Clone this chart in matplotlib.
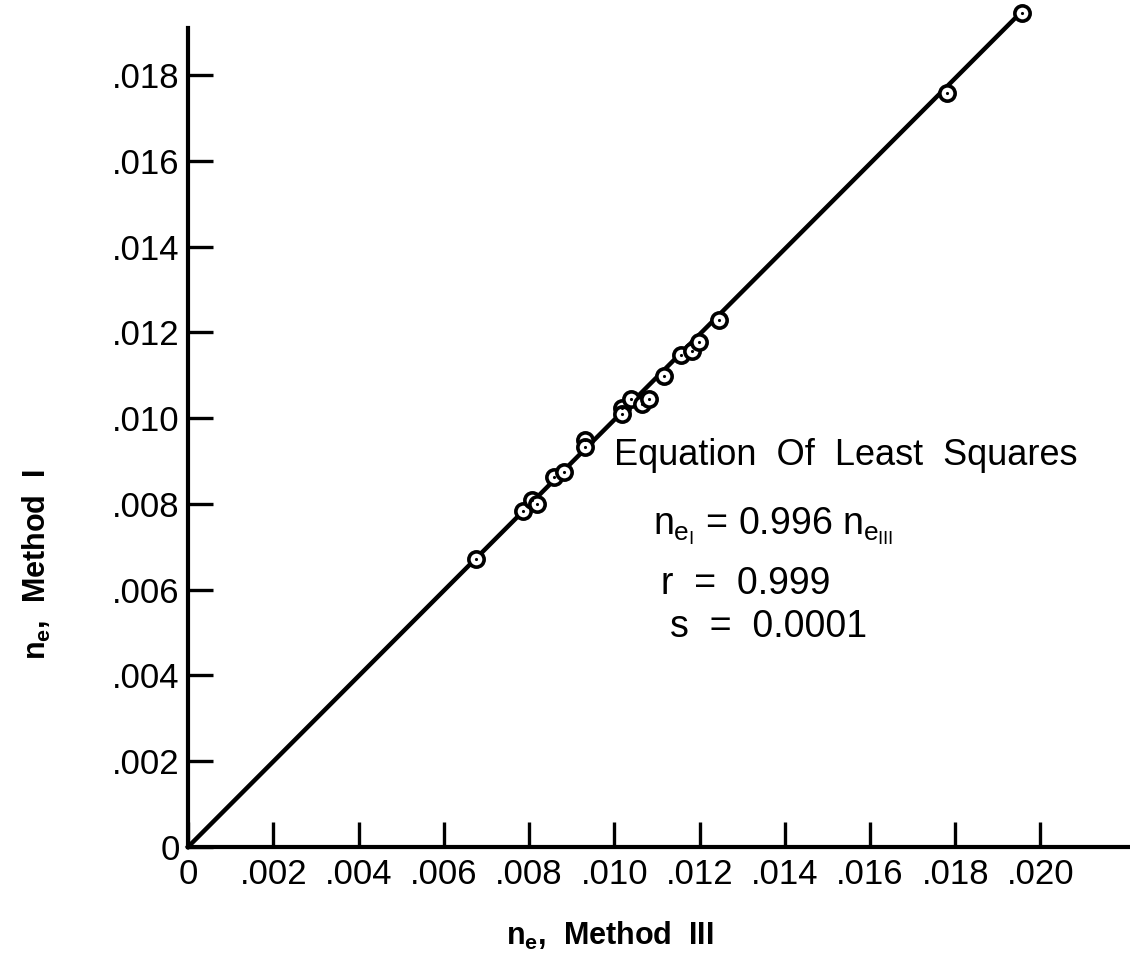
import numpy as np
import matplotlib
matplotlib.use("Agg")
import matplotlib.pyplot as plt

plt.rcParams['font.family'] = ['Liberation Sans', 'DejaVu Sans']
plt.rcParams['mathtext.fontset'] = 'custom'
plt.rcParams['mathtext.rm'] = 'Liberation Sans'
plt.rcParams['mathtext.it'] = 'Liberation Sans'
plt.rcParams['mathtext.bf'] = 'Liberation Sans:bold'

# n_e by Method III (x) vs Method I (y)
ne_method3 = [0.00675, 0.00786, 0.00806, 0.00819, 0.00859, 0.00882, 0.00931, 0.00931,
              0.01017, 0.01018, 0.01039, 0.01064, 0.01081, 0.01117, 0.01156, 0.01183,
              0.01198, 0.01246, 0.01780, 0.01957]
ne_method1 = [0.00671, 0.00784, 0.00810, 0.00799, 0.00863, 0.00875, 0.00950, 0.00932,
              0.01023, 0.01010, 0.01044, 0.01034, 0.01044, 0.01098, 0.01147, 0.01157,
              0.01177, 0.01230, 0.01758, 0.01945]
slope = 0.996

x_ticks = [0, .002, .004, .006, .008, .010, .012, .014, .016, .018, .020]
x_labels = ['0', '.002', '.004', '.006', '.008', '.010', '.012', '.014', '.016', '.018', '.020']
y_ticks = [0, .002, .004, .006, .008, .010, .012, .014, .016, .018]
y_labels = ['0', '.002', '.004', '.006', '.008', '.010', '.012', '.014', '.016', '.018']

fig = plt.figure(figsize=(11.3, 9.63), dpi=100)
ax = fig.add_axes([0.1664, 0.1205, 0.8336, 0.8505])

# least squares line
xl = np.array([0, max(ne_method3)])
ax.plot(xl, slope * xl, color='black', lw=3.2, clip_on=False, zorder=2)

ax.plot(ne_method3, ne_method1, 'o', ms=11, mfc='white', mec='black', mew=2.6,
        clip_on=False, zorder=3)
ax.plot(ne_method3, ne_method1, '.', ms=2.5, color='black', clip_on=False, zorder=4)

ax.set_xlim(0, 0.0221)
ax.set_ylim(0, 0.0191)

for s in ['top', 'right']:
    ax.spines[s].set_visible(False)
for s in ['left', 'bottom']:
    ax.spines[s].set_linewidth(3)

ax.set_xticks(x_ticks)
ax.set_xticklabels(x_labels)
ax.set_yticks(y_ticks)
ax.set_yticklabels(y_labels)
ax.tick_params(direction='in', length=18, width=2.4, labelsize=25, pad=8)
ax.tick_params(axis='y', pad=6)

ax.set_xlabel(r'$\mathbf{n_e}$,  Method  III', fontsize=22, fontweight='bold')
ax.set_ylabel(r'$\mathbf{n_e}$,  Method  I', fontsize=22, fontweight='bold')
ax.xaxis.set_label_coords(0.448, -0.089)
ax.yaxis.set_label_coords(-0.143, 0.345)

ax.text(0.0100, 0.0089, 'Equation  Of  Least  Squares', fontsize=26)
ax.text(0.0109, 0.0073, r'$n_{e_I}$ = 0.996 $n_{e_{III}}$', fontsize=27)
ax.text(0.0111, 0.0059, 'r  =  0.999', fontsize=27)
ax.text(0.0113, 0.0049, 's  =  0.0001', fontsize=27)

fig.savefig('out.png', dpi=100)
